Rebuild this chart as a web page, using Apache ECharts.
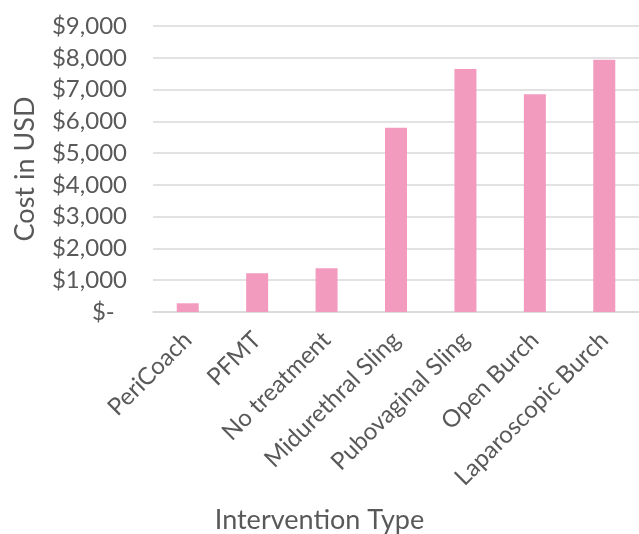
<!DOCTYPE html>
<html>
<head>
<meta charset="utf-8">
<script src="https://cdn.jsdelivr.net/npm/echarts@6/dist/echarts.min.js"></script>
<style>
  html, body { margin: 0; padding: 0; background: #fff; }
  #chart { width: 639px; height: 534px; }
</style>
</head>
<body>
<div id="chart"></div>
<script>
// data
const categories = ['PeriCoach', 'PFMT', 'No treatment', 'Midurethral Sling', 'Pubovaginal Sling', 'Open Burch', 'Laparoscopic Burch']
const costs = [275, 1220, 1380, 5800, 7650, 6850, 7940]
const yTicks = [0, 1000, 2000, 3000, 4000, 5000, 6000, 7000, 8000, 9000]

const textColor = '#595959'
const fontFamily = 'Lato, "Open Sans", sans-serif'

// $ formatting like excel accounting
const fmtUSD = (v) => v === 0 ? '$-  ' : '$' + v.toLocaleString('en-US')

const chart = echarts.init(document.getElementById('chart'))
chart.setOption({
  animation: false,
  title: {
    text: 'Intervention Type',
    left: 'center',
    top: 502,
    textStyle: { color: textColor, fontFamily, fontSize: 27, fontWeight: 'normal' }
  },
  grid: { left: 153, top: 26, width: 491, height: 286 },
  xAxis: {
    type: 'category',
    data: categories,
    axisLine: { lineStyle: { color: '#d9d9d9', width: 1.5 } },
    axisTick: { show: false },
    axisLabel: {
      interval: 0,
      rotate: 45,
      margin: 24,
      color: textColor,
      fontFamily,
      fontSize: 24
    }
  },
  yAxis: {
    type: 'value',
    min: yTicks[0],
    max: yTicks[yTicks.length - 1],
    interval: 1000,
    name: 'Cost in USD',
    nameLocation: 'middle',
    nameRotate: 90,
    nameGap: 114,
    nameTextStyle: { color: textColor, fontFamily, fontSize: 27 },
    axisLine: { show: false },
    axisTick: { show: false },
    splitLine: { lineStyle: { color: '#d9d9d9', width: 1.5 } },
    axisLabel: {
      margin: 26,
      color: textColor,
      fontFamily,
      fontSize: 24,
      formatter: fmtUSD
    }
  },
  series: [
    {
      name: 'Cost',
      type: 'bar',
      data: costs,
      barWidth: 22,
      itemStyle: { color: '#F29BBF' }
    }
  ]
})
</script>
</body>
</html>
